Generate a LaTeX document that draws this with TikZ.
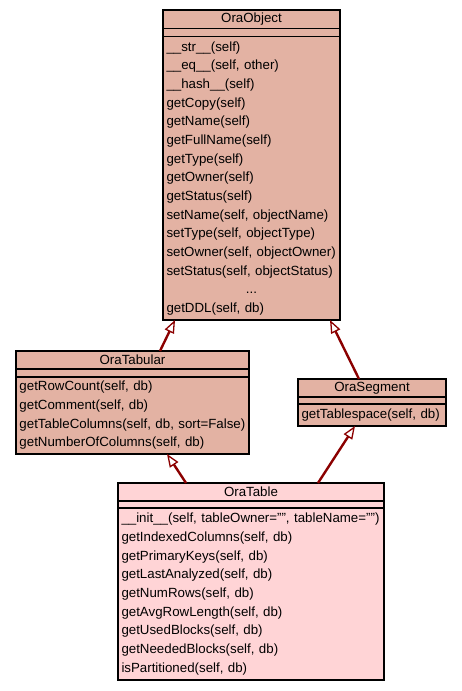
\documentclass[tikz,border=0pt]{standalone}
\usepackage{fontspec}
\setmainfont{Liberation Sans}
\usetikzlibrary{positioning,arrows.meta}
\definecolor{clsfill}{RGB}{227,178,163}
\definecolor{leaffill}{RGB}{255,212,214}
\definecolor{inhred}{RGB}{139,0,0}

\tikzset{
  cls/.style={draw=black, line width=1.2pt, fill=clsfill, inner sep=0pt, outer sep=0pt},
  ops/.style={cls, inner xsep=3.5pt, align=left},
  inherit/.style={draw=inhred, line width=2.4pt, -{Triangle[open, length=13pt, width=10pt, line width=1.3pt]}},
}

\begin{document}
\begin{tikzpicture}[x=1pt, y=-1pt, font=\fontsize{13.3}{18.67}\selectfont]
  \useasboundingbox (0,0) rectangle (461,691);

  % OraObject
  \node[cls, minimum width=177pt, minimum height=18.5pt] (obj) at (251.5,19.25) {OraObject};
  \node[cls, minimum width=177pt, minimum height=8pt, below=0pt of obj] (obj-a) {};
  \node[ops, text width=170pt, minimum height=283.5pt, below=0pt of obj-a] (obj-m)
    {\_\_str\_\_(self)\\ \_\_eq\_\_(self, other)\\ \_\_hash\_\_(self)\\ getCopy(self)\\
     getName(self)\\ getFullName(self)\\ getType(self)\\ getOwner(self)\\ getStatus(self)\\
     setName(self, objectName)\\ setType(self, objectType)\\ setOwner(self, objectOwner)\\
     setStatus(self, objectStatus)\\ \makebox[\linewidth]{...}\\ getDDL(self, db)};

  % OraTabular
  \node[cls, minimum width=233pt, minimum height=18pt] (tab) at (132.5,360) {OraTabular};
  \node[cls, minimum width=233pt, minimum height=8pt, below=0pt of tab] (tab-a) {};
  \node[ops, text width=226pt, minimum height=77pt, below=0pt of tab-a] (tab-m)
    {getRowCount(self, db)\\ getComment(self, db)\\
     getTableColumns(self, db, sort=False)\\ getNumberOfColumns(self, db)};

  % OraSegment
  \node[cls, minimum width=148pt, minimum height=18pt] (seg) at (372,388) {OraSegment};
  \node[cls, minimum width=148pt, minimum height=7pt, below=0pt of seg] (seg-a) {};
  \node[ops, text width=141pt, minimum height=22pt, below=0pt of seg-a] (seg-m)
    {getTablespace(self, db)};

  % OraTable
  \node[cls, fill=leaffill, minimum width=266pt, minimum height=18pt] (tbl) at (251,492) {OraTable};
  \node[cls, fill=leaffill, minimum width=266pt, minimum height=7pt, below=0pt of tbl] (tbl-a) {};
  \node[ops, fill=leaffill, text width=259pt, minimum height=172pt, below=0pt of tbl-a] (tbl-m)
    {\_\_init\_\_(self, tableOwner="", tableName="")\\ getIndexedColumns(self, db)\\
     getPrimaryKeys(self, db)\\ getLastAnalyzed(self, db)\\ getNumRows(self, db)\\
     getAvgRowLength(self, db)\\ getUsedBlocks(self, db)\\ getNeededBlocks(self, db)\\
     isPartitioned(self, db)};

  % inheritance
  \draw[inherit] ([xshift=27.5pt]tab.north) -- ([xshift=-76.5pt]obj-m.south);
  \draw[inherit] ([xshift=-13pt]seg.north) -- ([xshift=78.5pt]obj-m.south);
  \draw[inherit] ([xshift=-65pt]tbl.north) -- ([xshift=34.5pt]tab-m.south);
  \draw[inherit] ([xshift=67pt]tbl.north) -- ([xshift=-17pt]seg-m.south);
\end{tikzpicture}
\end{document}
